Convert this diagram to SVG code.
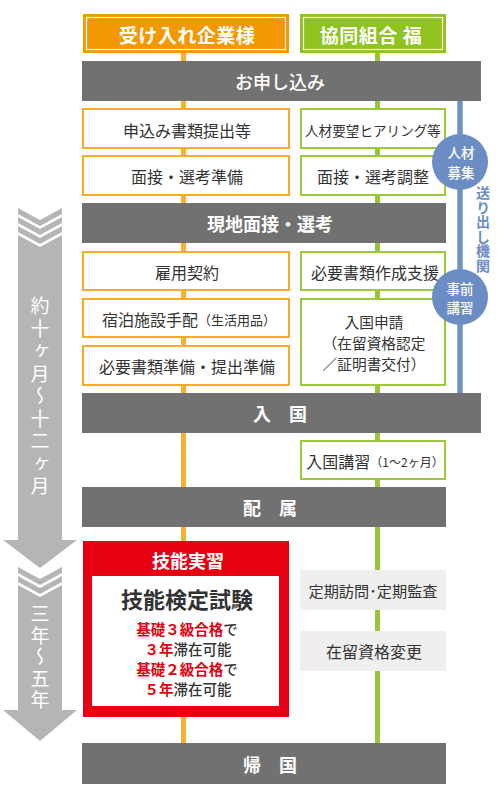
<svg xmlns="http://www.w3.org/2000/svg" width="500" height="790" viewBox="0 0 500 790">
<style>
text{font-family:"Noto Sans CJK JP","Noto Sans",sans-serif;dominant-baseline:central;text-anchor:middle}
.bar{fill:#727171}
.bt{fill:#fff;font-size:18px;font-weight:700}
.ht{fill:#fff;font-size:19px;font-weight:700;letter-spacing:0.5px}
.ob{fill:#fff;stroke:#f6ab2a;stroke-width:2}
.gb{fill:#fff;stroke:#9cc93b;stroke-width:2}
.t{fill:#333;font-size:16px}
.lg{fill:#efefef}
.arr{fill:#b5b5b5}
.at{fill:#fff;font-size:19px;writing-mode:vertical-rl;text-anchor:start}
.circ{fill:#6b8dc3}
.ct{fill:#fff;font-size:13.5px;font-weight:500}
.vt{fill:#6b8dc3;font-size:14px;font-weight:700;writing-mode:vertical-rl;text-anchor:start;letter-spacing:0.5px}
.r{fill:#e60012;font-weight:700}
.k{fill:#333;font-weight:500}
</style>
<rect x="0" y="0" width="500" height="790" fill="#fff"/>

<g id="connectors">
<line x1="183.5" y1="53" x2="183.5" y2="743" stroke="#f7b12a" stroke-width="5"/>
<line x1="377.5" y1="53" x2="377.5" y2="743" stroke="#96c43a" stroke-width="5"/>
<line x1="460" y1="101" x2="460" y2="393" stroke="#7093c6" stroke-width="5.5"/>
</g>

<g id="timeline-arrows">
<polygon class="arr" points="18,208 40,220 62,208 62,214 40,226 18,214"/>
<polygon class="arr" points="18,217 40,229 62,217 62,223 40,235 18,223"/>
<polygon class="arr" points="18,226 40,238 62,226 62,232 40,244 18,232"/>
<polygon class="arr" points="18,235 40,247 62,235 62,540 77,540 40,568 3,540 18,540"/>
<text class="at" x="40" y="296.5" style="letter-spacing:3.5px">約十ヶ月～十二ヶ月</text>

<polygon class="arr" points="18,567 40,579 62,567 62,573 40,585 18,573"/>
<polygon class="arr" points="18,576 40,588 62,576 62,582 40,594 18,582"/>
<polygon class="arr" points="18,585 40,597 62,585 62,710 77,710 40,741 3,710 18,710"/>
<text class="at" x="40" y="604.5" style="letter-spacing:2.5px">三年～五年</text>
</g>

<g id="header-company">
<rect x="83" y="14" width="206" height="39" fill="#f39800"/>
<rect x="86.5" y="17.5" width="199" height="32" fill="none" stroke="#fff" stroke-width="1.2"/>
<text class="ht" x="187" y="34.5">受け入れ企業様</text>
</g>
<g id="header-union">
<rect x="300" y="14" width="146" height="39" fill="#8fc31f"/>
<rect x="303.5" y="17.5" width="139" height="32" fill="none" stroke="#fff" stroke-width="1.2"/>
<text class="ht" x="371" y="34.5">協同組合 福</text>
</g>

<g id="bar-apply">
<rect class="bar" x="82" y="61" width="399" height="40"/>
<text class="bt" x="280" y="81" style="font-weight:500">お申し込み</text>
</g>

<g id="c-docs"><rect class="ob" x="83" y="109" width="206" height="39"/><text class="t" x="187" y="129.5">申込み書類提出等</text></g>
<g id="u-hearing"><rect class="gb" x="301" y="109" width="144" height="39"/><text class="t" x="373" y="129.5" style="font-size:13.6px">人材要望ヒアリング等</text></g>
<g id="c-interview"><rect class="ob" x="83" y="156" width="206" height="39"/><text class="t" x="187" y="176">面接・選考準備</text></g>
<g id="u-interview"><rect class="gb" x="301" y="156" width="144" height="39"/><text class="t" x="373" y="176">面接・選考調整</text></g>

<g id="bar-interview">
<rect class="bar" x="82" y="203" width="364" height="40"/>
<text class="bt" x="270" y="223">現地面接・選考</text>
</g>

<g id="c-contract"><rect class="ob" x="83" y="252" width="206" height="38"/><text class="t" x="187" y="271.5">雇用契約</text></g>
<g id="u-docsupport"><rect class="gb" x="301" y="252" width="144" height="38"/><text class="t" x="375" y="271.5">必要書類作成支援</text></g>
<g id="c-lodging"><rect class="ob" x="83" y="299" width="206" height="38"/><text class="t" x="189" y="318.5">宿泊施設手配<tspan style="font-size:13px">（生活用品）</tspan></text></g>
<g id="c-prep"><rect class="ob" x="83" y="346" width="206" height="39"/><text class="t" x="187" y="366">必要書類準備・提出準備</text></g>
<g id="u-entryapp"><rect class="gb" x="301" y="299" width="144" height="86"/>
<text class="t" style="font-size:14.7px"><tspan x="374" y="320.5">入国申請</tspan><tspan x="374" y="341.5">（在留資格認定</tspan><tspan x="374" y="362.5">／証明書交付）</tspan></text></g>

<g id="sending-org">
<circle class="circ" cx="460" cy="162" r="28"/>
<text class="ct"><tspan x="461" y="152">人材</tspan><tspan x="461" y="171.5">募集</tspan></text>
<circle class="circ" cx="460" cy="297" r="28"/>
<text class="ct"><tspan x="460" y="287.5">事前</tspan><tspan x="460" y="307">講習</tspan></text>
<text class="vt" x="483" y="186">送り出し機関</text>
</g>

<g id="bar-entry">
<rect class="bar" x="82" y="393" width="399" height="40"/>
<text class="bt" x="280" y="413">入　国</text>
</g>

<g id="u-training"><rect class="gb" x="301" y="441" width="144" height="38"/><text class="t" x="375" y="460.5">入国講習<tspan style="font-size:12px">（1～2ヶ月）</tspan></text></g>

<g id="bar-assign">
<rect class="bar" x="82" y="487" width="364" height="40"/>
<text class="bt" x="270" y="507">配　属</text>
</g>

<g id="c-practice">
<rect x="83" y="541" width="206" height="176" fill="#e60012"/>
<rect x="92" y="576" width="187" height="130" fill="#fff"/>
<text x="188" y="560" fill="#fff" font-size="18" font-weight="700">技能実習</text>
<text x="187" y="597.5" fill="#333" font-size="22" font-weight="700">技能検定試験</text>
<text font-size="14.5"><tspan x="187" y="628"><tspan class="r">基礎３級合格</tspan><tspan class="k">で</tspan></tspan><tspan x="188" y="648"><tspan class="r">３年</tspan><tspan class="k">滞在可能</tspan></tspan><tspan x="187" y="668"><tspan class="r">基礎２級合格</tspan><tspan class="k">で</tspan></tspan><tspan x="188" y="688"><tspan class="r">５年</tspan><tspan class="k">滞在可能</tspan></tspan></text>
</g>

<g id="u-visit"><rect class="lg" x="300" y="570" width="146" height="40"/><text class="t" x="373" y="590" style="font-size:15.2px">定期訪問･定期監査</text></g>
<g id="u-change"><rect class="lg" x="300" y="631" width="146" height="40"/><text class="t" x="374" y="651">在留資格変更</text></g>

<g id="bar-return">
<rect class="bar" x="82" y="743" width="364" height="41"/>
<text class="bt" x="270" y="763.5">帰　国</text>
</g>
</svg>
